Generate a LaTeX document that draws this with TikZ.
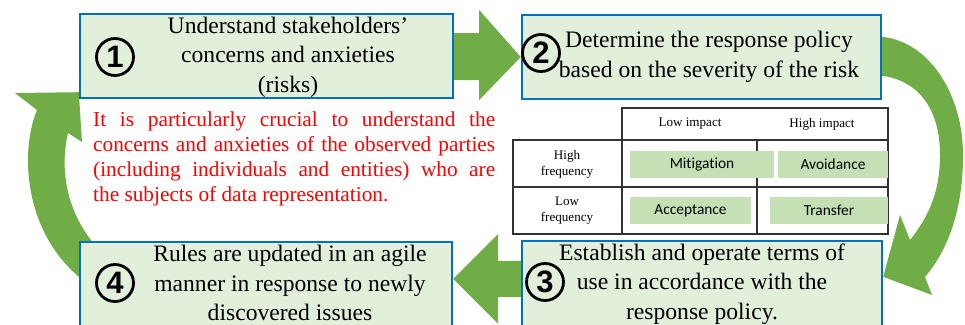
\documentclass[tikz,border=0pt]{standalone}
\usepackage{fontspec}
\setmainfont{Liberation Serif}
\newfontfamily\cellfont[Ligatures=NoCommon]{Carlito}
\newfontfamily\numfont{Liberation Sans}
\usetikzlibrary{calc,backgrounds}

\definecolor{boxfill}{HTML}{E2EFDA}
\definecolor{boxline}{HTML}{0070C0}
\definecolor{flowgreen}{HTML}{70AD47}
\definecolor{cellgreen}{HTML}{C5E0B4}

\begin{document}
\begin{tikzpicture}[x=1pt,y=-1pt]
  \tikzstyle{stepbox}=[draw=boxline,line width=2.4pt,fill=boxfill,inner sep=0pt]
  \tikzstyle{steptext}=[align=center,font=\fontsize{23.6}{29.5}\selectfont]
  \tikzstyle{numcirc}=[circle,draw,line width=2.8pt,minimum size=37pt,inner sep=0pt,font=\numfont\bfseries\fontsize{31}{31}\selectfont]
  \tikzstyle{flowarrow}=[fill=flowgreen]
  \tikzstyle{tableline}=[draw=black!80,line width=1.3pt]
  \tikzstyle{cell}=[fill=cellgreen,minimum height=27pt,inner sep=0pt,font=\cellfont\fontsize{15.4}{18}\selectfont]
  \tikzstyle{hdrtext}=[align=center,inner sep=0pt,font=\fontsize{13.1}{16}\selectfont]

  \useasboundingbox (0,0) rectangle (965,324);

  \node[stepbox,minimum width=373pt,minimum height=84pt] (s1) at (266.5,56) {};
  \node[stepbox,minimum width=359pt,minimum height=84pt] (s2) at (701.5,57) {};
  \node[stepbox,minimum width=360pt,minimum height=89pt] (s3) at (702,285.5) {};
  \node[stepbox,minimum width=372pt,minimum height=88pt] (s4) at (266,286) {};

  \node[numcirc] (n1) at (115,57) {1};
  \node[steptext] (t1) at (288,57) {Understand stakeholders'\\concerns and anxieties\\(risks)};
  \node[numcirc] (n2) at (541,53) {2};
  \node[steptext] (t2) at (709,57) {Determine the response policy\\based on the severity of the risk};
  \node[numcirc] (n3) at (545,282) {3};
  \node[steptext] (t3) at (702,284) {Establish and operate terms of\\use in accordance with the\\response policy.};
  \node[numcirc] (n4) at (115,283) {4};
  \node[steptext] (t4) at (290,283) {Rules are updated in an agile\\manner in response to newly\\discovered issues};

  \node[anchor=north west,inner sep=0pt,text width=402pt,align=justify,text=red,font=\fontsize{21.3}{25}\selectfont] (note) at (93,112)
    {It is particularly crucial to understand the\linebreak concerns and anxieties of the observed parties\linebreak (including individuals and entities) who are\linebreak the subjects of data representation.};

  \draw[tableline] (622,108) rectangle (888,140);
  \draw[tableline] (513,140) rectangle (888,234);
  \draw[tableline] (513,187) -- (888,187);
  \draw[tableline] (622,140) -- (622,234);
  \draw[tableline] (757,140) -- (757,234);

  \node[hdrtext] (lowimp) at (690,124) {Low impact};
  \node[hdrtext] (highimp) at (822,124) {High impact};
  \node[hdrtext] (highfreq) at (567,164) {High\\frequency};
  \node[hdrtext] (lowfreq) at (567,211) {Low\\frequency};

  \node[cell,minimum width=144pt] (mit) at (702,164.5) {Mitigation};
  \node[cell,minimum width=110pt] (avo) at (833,164.5) {Avoidance};
  \node[cell,minimum width=121pt] (acc) at (690.5,210.5) {Acceptance};
  \node[cell,minimum width=118pt] (tra) at (829,210.5) {Transfer};

  \begin{scope}[on background layer]
    \fill[flowarrow] ($(s1.east)+(-8,-23)$) -- ($(s1.east)+(25,-23)$) -- ($(s1.east)+(25,-46)$) -- (s2.west)
      -- ($(s1.east)+(25,44)$) -- ($(s1.east)+(25,24)$) -- ($(s1.east)+(-8,24)$) -- cycle;
    \coordinate (tip4) at ($(s4.north east)+(0,38)$);
    \fill[flowarrow] ($(s3.west|-tip4)+(8,-18)$) -- ($(tip4)+(45,-18)$) -- ($(tip4)+(45,-45)$) -- (tip4)
      -- ($(tip4)+(45,45)$) -- ($(tip4)+(45,18)$) -- ($(s3.west|-tip4)+(8,18)$) -- cycle;
    \fill[flowarrow] ($(s2.north east)+(-10,23)$) -- ($(s2.north east)+(0,23)$)
      .. controls (930,42) and (963,95) .. (963,155)
      .. controls (963,210) and (948,250) .. (925,277)
      -- (932,295) -- ($(s3.north east)+(0,37)$) -- (900,215) -- (910,240)
      .. controls (930,215) and (940,190) .. (940,155)
      .. controls (940,105) and (915,80) .. ($(s2.north east)+(0,62)$)
      -- ($(s2.north east)+(-10,62)$) -- cycle;
    \fill[flowarrow] ($(s4.north west)+(10,36)$) -- ($(s4.north west)+(0,36)$)
      .. controls (45,248) and (28,205) .. (28,160)
      .. controls (28,140) and (32,122) .. (37,110)
      -- (15,93) -- ($(s1.south west)+(0,-7)$) -- (82,142) -- (68,133)
      .. controls (65,145) and (64,160) .. (65,172)
      .. controls (67,200) and (78,225) .. (95,245) -- cycle;
  \end{scope}
\end{tikzpicture}
\end{document}
